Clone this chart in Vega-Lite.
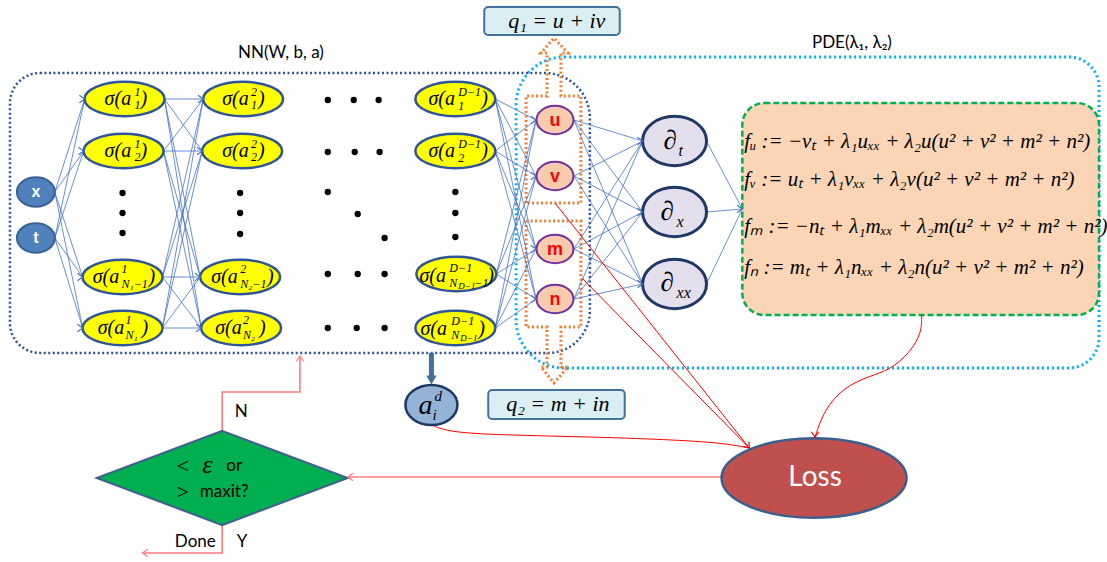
{
"$schema":"https://vega.github.io/schema/vega-lite/v6.json",
"width":1107,"height":562,"padding":0,
"autosize":{"type":"fit","contains":"padding"},
"background":"#ffffff",
"config":{"view":{"stroke":null}},
"datasets":{
"nodes":[
{"id":"x","type":"in","x":36,"y":192,"l":17,"r":55},
{"id":"t","type":"in","x":36,"y":238,"l":17,"r":55},
{"id":"h11","type":"h","x":125,"y":99,"l":85,"r":165},
{"id":"h12","type":"h","x":124,"y":151,"l":84,"r":164},
{"id":"h13","type":"h","x":123,"y":277,"l":83,"r":163},
{"id":"h14","type":"h","x":123,"y":328,"l":83,"r":163},
{"id":"h21","type":"h","x":244,"y":99,"l":204,"r":284},
{"id":"h22","type":"h","x":243,"y":151,"l":203,"r":283},
{"id":"h23","type":"h","x":241,"y":277,"l":201,"r":281},
{"id":"h24","type":"h","x":242,"y":328,"l":202,"r":282},
{"id":"hD1","type":"h","x":457,"y":99,"l":417,"r":497},
{"id":"hD2","type":"h","x":457,"y":151,"l":417,"r":497},
{"id":"hD3","type":"h","x":458,"y":274,"l":418,"r":498},
{"id":"hD4","type":"h","x":457,"y":328,"l":417,"r":497},
{"id":"u","type":"out","x":557,"y":120,"l":538,"r":576},
{"id":"v","type":"out","x":557,"y":176,"l":538,"r":576},
{"id":"m","type":"out","x":557,"y":249,"l":538,"r":576},
{"id":"n","type":"out","x":557,"y":299,"l":538,"r":576},
{"id":"dt","type":"d","x":677,"y":141,"l":645,"r":709},
{"id":"dx","type":"d","x":677,"y":212,"l":645,"r":709},
{"id":"dxx","type":"d","x":677,"y":284,"l":645,"r":709},
{"id":"pde","type":"pde","x":745,"y":209,"l":745,"r":745},
{"id":"ad","type":"ad","x":433,"y":405,"l":407,"r":459},
{"id":"loss","type":"loss","x":817,"y":478,"l":725,"r":910},
{"id":"dia","type":"dia","x":223,"y":478,"l":97,"r":348},
{"id":"p1","type":"dot","x":123,"y":193},{"id":"p2","type":"dot","x":123,"y":213},{"id":"p3","type":"dot","x":123,"y":233},
{"id":"p4","type":"dot","x":241,"y":193},{"id":"p5","type":"dot","x":241,"y":213},{"id":"p6","type":"dot","x":241,"y":234},
{"id":"p7","type":"dot","x":457,"y":192},{"id":"p8","type":"dot","x":457,"y":213},{"id":"p9","type":"dot","x":457,"y":237},
{"id":"p10","type":"dot","x":329,"y":100},{"id":"p11","type":"dot","x":355,"y":100},{"id":"p12","type":"dot","x":380,"y":100},
{"id":"p13","type":"dot","x":329,"y":152},{"id":"p14","type":"dot","x":356,"y":152},{"id":"p15","type":"dot","x":381,"y":152},
{"id":"p16","type":"dot","x":329,"y":192},{"id":"p17","type":"dot","x":359,"y":214},{"id":"p18","type":"dot","x":386,"y":238},
{"id":"p19","type":"dot","x":329,"y":274},{"id":"p20","type":"dot","x":359,"y":274},{"id":"p21","type":"dot","x":386,"y":274},
{"id":"p22","type":"dot","x":329,"y":328},{"id":"p23","type":"dot","x":358,"y":328},{"id":"p24","type":"dot","x":386,"y":328}
],
"links":[
{"s":"x","t":"h11"},{"s":"x","t":"h12"},{"s":"x","t":"h13"},{"s":"x","t":"h14"},
{"s":"t","t":"h11"},{"s":"t","t":"h12"},{"s":"t","t":"h13"},{"s":"t","t":"h14"},
{"s":"h11","t":"h21"},{"s":"h11","t":"h22"},{"s":"h11","t":"h23"},{"s":"h11","t":"h24"},
{"s":"h12","t":"h21"},{"s":"h12","t":"h22"},{"s":"h12","t":"h23"},{"s":"h12","t":"h24"},
{"s":"h13","t":"h21"},{"s":"h13","t":"h22"},{"s":"h13","t":"h23"},{"s":"h13","t":"h24"},
{"s":"h14","t":"h21"},{"s":"h14","t":"h22"},{"s":"h14","t":"h23"},{"s":"h14","t":"h24"},
{"s":"hD1","t":"u"},{"s":"hD1","t":"v"},{"s":"hD1","t":"m"},{"s":"hD1","t":"n"},
{"s":"hD2","t":"u"},{"s":"hD2","t":"v"},{"s":"hD2","t":"m"},{"s":"hD2","t":"n"},
{"s":"hD3","t":"u"},{"s":"hD3","t":"v"},{"s":"hD3","t":"m"},{"s":"hD3","t":"n"},
{"s":"hD4","t":"u"},{"s":"hD4","t":"v"},{"s":"hD4","t":"m"},{"s":"hD4","t":"n"},
{"s":"u","t":"dt"},{"s":"u","t":"dx"},{"s":"u","t":"dxx"},
{"s":"v","t":"dt"},{"s":"v","t":"dx"},{"s":"v","t":"dxx"},
{"s":"m","t":"dt"},{"s":"m","t":"dx"},{"s":"m","t":"dxx"},
{"s":"n","t":"dt"},{"s":"n","t":"dx"},{"s":"n","t":"dxx"},
{"s":"dt","t":"pde"},{"s":"dx","t":"pde"},{"s":"dxx","t":"pde"}
],
"boxes":[
{"k":"nn","x":10,"x2":592,"y":73,"y2":353},
{"k":"cy","x":518,"x2":1103,"y":57,"y2":368},
{"k":"pde","x":745,"x2":1103,"y":103,"y2":315},
{"k":"q","x":486,"x2":622,"y":7,"y2":35},
{"k":"q","x":490,"x2":627,"y":390,"y2":419}
],
"orange":[
{"id":"up","i":1,"x":528,"y":203},{"id":"up","i":2,"x":528,"y":96},{"id":"up","i":3,"x":549,"y":96},{"id":"up","i":4,"x":549,"y":53},{"id":"up","i":5,"x":543,"y":53},{"id":"up","i":6,"x":556,"y":38},{"id":"up","i":7,"x":570,"y":53},{"id":"up","i":8,"x":563,"y":53},{"id":"up","i":9,"x":563,"y":96},{"id":"up","i":10,"x":583,"y":96},{"id":"up","i":11,"x":583,"y":203},{"id":"up","i":12,"x":528,"y":203},
{"id":"dn","i":1,"x":528,"y":221},{"id":"dn","i":2,"x":583,"y":221},{"id":"dn","i":3,"x":583,"y":327},{"id":"dn","i":4,"x":563,"y":327},{"id":"dn","i":5,"x":563,"y":367},{"id":"dn","i":6,"x":570,"y":367},{"id":"dn","i":7,"x":556,"y":383},{"id":"dn","i":8,"x":543,"y":367},{"id":"dn","i":9,"x":549,"y":367},{"id":"dn","i":10,"x":549,"y":327},{"id":"dn","i":11,"x":528,"y":327},{"id":"dn","i":12,"x":528,"y":221}
],
"red":[
{"id":"r1","cv":"s","c":"r","i":1,"x":557,"y":203},{"id":"r1","cv":"s","c":"r","i":2,"x":752,"y":448},
{"id":"r2","cv":"s","c":"r","i":1,"x":584,"y":278},{"id":"r2","cv":"s","c":"r","i":2,"x":752,"y":448},
{"id":"r3","cv":"c","c":"r","i":1,"x":433,"y":425},{"id":"r3","cv":"c","c":"r","i":2,"x":450,"y":432},{"id":"r3","cv":"c","c":"r","i":3,"x":500,"y":435},{"id":"r3","cv":"c","c":"r","i":4,"x":600,"y":437},{"id":"r3","cv":"c","c":"r","i":5,"x":680,"y":440},{"id":"r3","cv":"c","c":"r","i":6,"x":725,"y":443},{"id":"r3","cv":"c","c":"r","i":7,"x":752,"y":448},
{"id":"r4","cv":"c","c":"r","i":1,"x":925,"y":315},{"id":"r4","cv":"c","c":"r","i":2,"x":925,"y":333},{"id":"r4","cv":"c","c":"r","i":3,"x":913,"y":353},{"id":"r4","cv":"c","c":"r","i":4,"x":893,"y":370},{"id":"r4","cv":"c","c":"r","i":5,"x":873,"y":376},{"id":"r4","cv":"c","c":"r","i":6,"x":847,"y":387},{"id":"r4","cv":"c","c":"r","i":7,"x":827,"y":410},{"id":"r4","cv":"c","c":"r","i":8,"x":818,"y":437},
{"id":"r5","cv":"s","c":"p","i":1,"x":725,"y":477},{"id":"r5","cv":"s","c":"p","i":2,"x":349,"y":477},
{"id":"r6","cv":"s","c":"p","i":1,"x":223,"y":431},{"id":"r6","cv":"s","c":"p","i":2,"x":223,"y":392},{"id":"r6","cv":"s","c":"p","i":3,"x":301,"y":392},{"id":"r6","cv":"s","c":"p","i":4,"x":301,"y":356},
{"id":"r7","cv":"s","c":"p","i":1,"x":223,"y":525},{"id":"r7","cv":"s","c":"p","i":2,"x":223,"y":553},{"id":"r7","cv":"s","c":"p","i":3,"x":143,"y":553}
],
"heads":[
{"x":85,"y":99,"dir":"r","c":"b"},{"x":84,"y":151,"dir":"r","c":"b"},{"x":83,"y":277,"dir":"r","c":"b"},{"x":83,"y":328,"dir":"r","c":"b"},
{"x":204,"y":99,"dir":"r","c":"b"},{"x":203,"y":151,"dir":"r","c":"b"},{"x":201,"y":277,"dir":"r","c":"b"},{"x":202,"y":328,"dir":"r","c":"b"},
{"x":538,"y":120,"dir":"r","c":"b"},{"x":538,"y":176,"dir":"r","c":"b"},{"x":538,"y":249,"dir":"r","c":"b"},{"x":538,"y":299,"dir":"r","c":"b"},
{"x":645,"y":141,"dir":"r","c":"b"},{"x":645,"y":212,"dir":"r","c":"b"},{"x":645,"y":284,"dir":"r","c":"b"},{"x":745,"y":209,"dir":"r","c":"b"},
{"x":752,"y":448,"dir":"dr","c":"r"},{"x":818,"y":437,"dir":"d","c":"r"},{"x":349,"y":477,"dir":"l","c":"p"},{"x":301,"y":356,"dir":"u","c":"p"},{"x":143,"y":553,"dir":"l","c":"p"}
],
"thick":[{"x":433,"y":353,"y2":377,"ty":380}],
"ser":[
{"x":105,"y":99,"t":"σ(a","k":"m"},{"x":135,"y":92,"t":"1","k":"s"},{"x":135,"y":105,"t":"1","k":"s"},{"x":141,"y":99,"t":")","k":"m"},
{"x":105,"y":151,"t":"σ(a","k":"m"},{"x":135,"y":144,"t":"1","k":"s"},{"x":135,"y":157,"t":"2","k":"s"},{"x":141,"y":151,"t":")","k":"m"},
{"x":93,"y":277,"t":"σ(a","k":"m"},{"x":122,"y":269,"t":"1","k":"s"},{"x":122,"y":284,"t":"N₁−1","k":"s"},{"x":149,"y":277,"t":")","k":"m"},
{"x":98,"y":328,"t":"σ(a","k":"m"},{"x":126,"y":320,"t":"1","k":"s"},{"x":126,"y":335,"t":"N₁","k":"s"},{"x":142,"y":328,"t":")","k":"m"},
{"x":223,"y":99,"t":"σ(a","k":"m"},{"x":252,"y":92,"t":"2","k":"s"},{"x":252,"y":105,"t":"1","k":"s"},{"x":259,"y":99,"t":")","k":"m"},
{"x":223,"y":151,"t":"σ(a","k":"m"},{"x":252,"y":144,"t":"2","k":"s"},{"x":252,"y":157,"t":"2","k":"s"},{"x":259,"y":151,"t":")","k":"m"},
{"x":212,"y":277,"t":"σ(a","k":"m"},{"x":241,"y":269,"t":"2","k":"s"},{"x":241,"y":284,"t":"N₂−1","k":"s"},{"x":268,"y":277,"t":")","k":"m"},
{"x":216,"y":328,"t":"σ(a","k":"m"},{"x":244,"y":320,"t":"2","k":"s"},{"x":244,"y":335,"t":"N₂","k":"s"},{"x":260,"y":328,"t":")","k":"m"},
{"x":430,"y":99,"t":"σ(a","k":"m"},{"x":460,"y":92,"t":"D−1","k":"s"},{"x":460,"y":106,"t":"1","k":"s"},{"x":483,"y":99,"t":")","k":"m"},
{"x":430,"y":151,"t":"σ(a","k":"m"},{"x":460,"y":144,"t":"D−1","k":"s"},{"x":460,"y":158,"t":"2","k":"s"},{"x":483,"y":151,"t":")","k":"m"},
{"x":421,"y":276,"t":"σ(a","k":"m"},{"x":451,"y":268,"t":"D−1","k":"s"},{"x":451,"y":283,"t":"N","k":"s"},{"x":460,"y":286,"t":"D−1","k":"ti"},{"x":476,"y":283,"t":"−1","k":"s"},{"x":489,"y":276,"t":")","k":"m"},
{"x":422,"y":329,"t":"σ(a","k":"m"},{"x":453,"y":321,"t":"D−1","k":"s"},{"x":453,"y":335,"t":"N","k":"s"},{"x":462,"y":338,"t":"D−1","k":"ti"},{"x":480,"y":329,"t":")","k":"m"},
{"x":666,"y":141,"t":"∂","k":"pd"},{"x":681,"y":151,"t":"t","k":"ps"},
{"x":663,"y":212,"t":"∂","k":"pd"},{"x":679,"y":222,"t":"x","k":"ps"},
{"x":663,"y":283,"t":"∂","k":"pd"},{"x":679,"y":293,"t":"xx","k":"ps"},
{"x":420,"y":406,"t":"a","k":"a"},{"x":436,"y":396,"t":"d","k":"as"},{"x":434,"y":415,"t":"i","k":"as"},
{"x":510,"y":21,"t":"q₁ = u + iv","k":"q"},{"x":508,"y":404,"t":"q₂ = m + in","k":"q"},
{"x":176,"y":466,"t":"<","k":"lt"},{"x":203,"y":465,"t":"ε","k":"ep"},{"x":176,"y":492,"t":">","k":"lt"},
{"x":747,"y":142,"t":"fᵤ := −vₜ + λ₁uₓₓ + λ₂u(u² + v² + m² + n²)","k":"eq"},
{"x":747,"y":180,"t":"fᵥ := uₜ + λ₁vₓₓ + λ₂v(u² + v² + m² + n²)","k":"eq"},
{"x":747,"y":227,"t":"fₘ := −nₜ + λ₁mₓₓ + λ₂m(u² + v² + m² + n²)","k":"eq"},
{"x":747,"y":268,"t":"fₙ := mₜ + λ₁nₓₓ + λ₂n(u² + v² + m² + n²)","k":"eq"}
],
"san":[
{"x":282,"y":53,"t":"NN(W, b, a)","k":"n"},{"x":855,"y":43,"t":"PDE(λ₁, λ₂)","k":"n"},
{"x":242,"y":412,"t":"N","k":"n"},{"x":196,"y":542,"t":"Done","k":"n"},{"x":243,"y":542,"t":"Y","k":"n"},
{"x":235,"y":466,"t":"or","k":"n"},{"x":225,"y":492,"t":"maxit?","k":"n"},
{"x":818,"y":478,"t":"Loss","k":"w"}
],
"bold":[
{"x":36,"y":192,"t":"x","k":"w"},{"x":36,"y":238,"t":"t","k":"w"},
{"x":557,"y":121,"t":"u","k":"r"},{"x":557,"y":177,"t":"v","k":"r"},{"x":557,"y":250,"t":"m","k":"r"},{"x":557,"y":300,"t":"n","k":"r"}
]
},
"resolve":{"scale":{"color":"independent","fill":"independent","stroke":"independent","size":"independent","shape":"independent","strokeWidth":"independent"}},
"layer":[
{"data":{"name":"boxes"},"transform":[{"filter":"datum.k == 'cy'"}],
 "mark":{"type":"rect","filled":false,"stroke":"#00B0F0","strokeWidth":3,"strokeDash":[2,3],"cornerRadiusTopLeft":48,"cornerRadiusBottomLeft":48,"cornerRadiusTopRight":30,"cornerRadiusBottomRight":30},
 "encoding":{"x":{"field":"x","type":"quantitative","scale":{"domain":[0,1107],"nice":false,"zero":false},"axis":null},"x2":{"field":"x2"},"y":{"field":"y","type":"quantitative","scale":{"domain":[0,562],"nice":false,"zero":false,"reverse":true},"axis":null},"y2":{"field":"y2"}}},
{"data":{"name":"boxes"},"transform":[{"filter":"datum.k == 'nn'"}],
 "mark":{"type":"rect","filled":false,"stroke":"#2F5597","strokeWidth":2.5,"strokeDash":[2,2.5],"cornerRadiusTopLeft":30,"cornerRadiusBottomLeft":30,"cornerRadiusTopRight":45,"cornerRadiusBottomRight":42},
 "encoding":{"x":{"field":"x","type":"quantitative","scale":{"domain":[0,1107],"nice":false,"zero":false},"axis":null},"x2":{"field":"x2"},"y":{"field":"y","type":"quantitative","scale":{"domain":[0,562],"nice":false,"zero":false,"reverse":true},"axis":null},"y2":{"field":"y2"}}},
{"data":{"name":"boxes"},"transform":[{"filter":"datum.k == 'pde'"}],
 "mark":{"type":"rect","fill":"#FBD5B5","stroke":"#00B050","strokeWidth":2.5,"strokeDash":[6,3],"cornerRadius":22},
 "encoding":{"x":{"field":"x","type":"quantitative","scale":{"domain":[0,1107],"nice":false,"zero":false},"axis":null},"x2":{"field":"x2"},"y":{"field":"y","type":"quantitative","scale":{"domain":[0,562],"nice":false,"zero":false,"reverse":true},"axis":null},"y2":{"field":"y2"}}},
{"data":{"name":"orange"},
 "mark":{"type":"line","color":"#ED7D31","strokeWidth":3,"strokeDash":[2,2.5]},
 "encoding":{"x":{"field":"x","type":"quantitative","scale":{"domain":[0,1107],"nice":false,"zero":false},"axis":null},"y":{"field":"y","type":"quantitative","scale":{"domain":[0,562],"nice":false,"zero":false,"reverse":true},"axis":null},"detail":{"field":"id"},"order":{"field":"i","type":"quantitative"}}},
{"data":{"name":"links"},
 "transform":[
  {"lookup":"s","from":{"data":{"name":"nodes"},"key":"id","fields":["r","y"]},"as":["x1","y1"]},
  {"lookup":"t","from":{"data":{"name":"nodes"},"key":"id","fields":["l","y"]},"as":["xe","ye"]}],
 "mark":{"type":"rule","color":"#4472C4","strokeWidth":0.8},
 "encoding":{"x":{"field":"x1","type":"quantitative","scale":{"domain":[0,1107],"nice":false,"zero":false},"axis":null},"y":{"field":"y1","type":"quantitative","scale":{"domain":[0,562],"nice":false,"zero":false,"reverse":true},"axis":null},"x2":{"field":"xe"},"y2":{"field":"ye"}}},
{"data":{"name":"red"},"transform":[{"filter":"datum.cv == 's'"}],
 "mark":{"type":"line"},
 "encoding":{"x":{"field":"x","type":"quantitative","scale":{"domain":[0,1107],"nice":false,"zero":false},"axis":null},"y":{"field":"y","type":"quantitative","scale":{"domain":[0,562],"nice":false,"zero":false,"reverse":true},"axis":null},"detail":{"field":"id"},"order":{"field":"i","type":"quantitative"},
  "color":{"field":"c","type":"nominal","scale":{"domain":["r","p"],"range":["#FF0000","#FF7C80"]},"legend":null},
  "strokeWidth":{"field":"c","type":"nominal","scale":{"type":"ordinal","domain":["r","p"],"range":[1,1.6]},"legend":null}}},
{"data":{"name":"red"},"transform":[{"filter":"datum.cv == 'c'"}],
 "mark":{"type":"line","interpolate":"basis","color":"#FF0000","strokeWidth":1},
 "encoding":{"x":{"field":"x","type":"quantitative","scale":{"domain":[0,1107],"nice":false,"zero":false},"axis":null},"y":{"field":"y","type":"quantitative","scale":{"domain":[0,562],"nice":false,"zero":false,"reverse":true},"axis":null},"detail":{"field":"id"},"order":{"field":"i","type":"quantitative"}}},
{"data":{"name":"thick"},
 "mark":{"type":"rule","color":"#41719C","strokeWidth":5},
 "encoding":{"x":{"field":"x","type":"quantitative","scale":{"domain":[0,1107],"nice":false,"zero":false},"axis":null},"y":{"field":"y","type":"quantitative","scale":{"domain":[0,562],"nice":false,"zero":false,"reverse":true},"axis":null},"y2":{"field":"y2"}}},
{"data":{"name":"thick"},
 "mark":{"type":"point","shape":"triangle-down","filled":true,"color":"#41719C","opacity":1,"size":110},
 "encoding":{"x":{"field":"x","type":"quantitative","scale":{"domain":[0,1107],"nice":false,"zero":false},"axis":null},"y":{"field":"ty","type":"quantitative","scale":{"domain":[0,562],"nice":false,"zero":false,"reverse":true},"axis":null}}},
{"data":{"name":"boxes"},"transform":[{"filter":"datum.k == 'q'"}],
 "mark":{"type":"rect","fill":"#DAEEF3","stroke":"#41719C","strokeWidth":2,"cornerRadius":4},
 "encoding":{"x":{"field":"x","type":"quantitative","scale":{"domain":[0,1107],"nice":false,"zero":false},"axis":null},"x2":{"field":"x2"},"y":{"field":"y","type":"quantitative","scale":{"domain":[0,562],"nice":false,"zero":false,"reverse":true},"axis":null},"y2":{"field":"y2"}}},
{"data":{"name":"nodes"},"transform":[{"filter":"datum.type != 'pde'"}],
 "mark":{"type":"point","filled":true,"opacity":1},
 "encoding":{"x":{"field":"x","type":"quantitative","scale":{"domain":[0,1107],"nice":false,"zero":false},"axis":null},"y":{"field":"y","type":"quantitative","scale":{"domain":[0,562],"nice":false,"zero":false,"reverse":true},"axis":null},
  "fill":{"field":"type","type":"nominal","scale":{"domain":["in","h","out","d","ad","loss","dia","dot"],"range":["#4F81BD","#FFFF00","#F8CBAD","#E4DFEC","#95B3D7","#C0504D","#00B050","#000000"]},"legend":null},
  "stroke":{"field":"type","type":"nominal","scale":{"domain":["in","h","out","d","ad","loss","dia","dot"],"range":["#3A6496","#2F5597","#7030A0","#1F3864","#1F3864","#3A5F8F","#3F5F8F","#000000"]},"legend":null},
  "strokeWidth":{"field":"type","type":"nominal","scale":{"type":"ordinal","domain":["in","h","out","d","ad","loss","dia","dot"],"range":[2,2.5,2,3,2.5,2.5,2,0]},"legend":null},
  "size":{"field":"type","type":"nominal","scale":{"type":"ordinal","domain":["in","h","out","d","ad","loss","dia","dot"],"range":[1444,6400,1369,4096,2704,34225,63001,40]},"legend":null},
  "shape":{"field":"type","type":"nominal","scale":{"domain":["in","h","out","d","ad","loss","dia","dot"],"range":[
   "M-1,0C-1,-0.425,-0.552,-0.77,0,-0.77C0.552,-0.77,1,-0.425,1,0C1,0.425,0.552,0.77,0,0.77C-0.552,0.77,-1,0.425,-1,0Z",
   "M-1,0C-1,-0.2375,-0.552,-0.43,0,-0.43C0.552,-0.43,1,-0.2375,1,0C1,0.2375,0.552,0.43,0,0.43C-0.552,0.43,-1,0.2375,-1,0Z",
   "M-1,0C-1,-0.425,-0.552,-0.77,0,-0.77C0.552,-0.77,1,-0.425,1,0C1,0.425,0.552,0.77,0,0.77C-0.552,0.77,-1,0.425,-1,0Z",
   "M-1,0C-1,-0.425,-0.552,-0.77,0,-0.77C0.552,-0.77,1,-0.425,1,0C1,0.425,0.552,0.77,0,0.77C-0.552,0.77,-1,0.425,-1,0Z",
   "M-1,0C-1,-0.425,-0.552,-0.77,0,-0.77C0.552,-0.77,1,-0.425,1,0C1,0.425,0.552,0.77,0,0.77C-0.552,0.77,-1,0.425,-1,0Z",
   "M-1,0C-1,-0.2375,-0.552,-0.43,0,-0.43C0.552,-0.43,1,-0.2375,1,0C1,0.2375,0.552,0.43,0,0.43C-0.552,0.43,-1,0.2375,-1,0Z",
   "M0,-0.375L1,0L0,0.375L-1,0Z",
   "circle"]},"legend":null}}},
{"data":{"name":"heads"},
 "mark":{"type":"point","filled":false,"opacity":1,"size":110,"strokeWidth":1.2},
 "encoding":{"x":{"field":"x","type":"quantitative","scale":{"domain":[0,1107],"nice":false,"zero":false},"axis":null},"y":{"field":"y","type":"quantitative","scale":{"domain":[0,562],"nice":false,"zero":false,"reverse":true},"axis":null},
  "shape":{"field":"dir","type":"nominal","scale":{"domain":["r","l","u","d","dr"],"range":["M-1,-0.7L0,0L-1,0.7","M1,-0.7L0,0L1,0.7","M-0.7,1L0,0L0.7,1","M-0.7,-1L0,0L0.7,-1","M-1.18,-0.34L0,0L-0.08,-1.22"]},"legend":null},
  "stroke":{"field":"c","type":"nominal","scale":{"domain":["b","r","p"],"range":["#4472C4","#FF0000","#FF7C80"]},"legend":null}}},
{"data":{"name":"ser"},
 "mark":{"type":"text","font":"Liberation Serif","fontStyle":"italic","align":"left","baseline":"middle"},
 "encoding":{"x":{"field":"x","type":"quantitative","scale":{"domain":[0,1107],"nice":false,"zero":false},"axis":null},"y":{"field":"y","type":"quantitative","scale":{"domain":[0,562],"nice":false,"zero":false,"reverse":true},"axis":null},"text":{"field":"t"},
  "color":{"value":"#000000"},
  "size":{"field":"k","type":"nominal","scale":{"type":"ordinal","domain":["m","s","ti","pd","ps","a","as","q","lt","ep","eq"],"range":[20,12,9,27,16,28,15,22,22,26,21]},"legend":null}}},
{"data":{"name":"san"},
 "mark":{"type":"text","font":"Lato","align":"center","baseline":"middle"},
 "encoding":{"x":{"field":"x","type":"quantitative","scale":{"domain":[0,1107],"nice":false,"zero":false},"axis":null},"y":{"field":"y","type":"quantitative","scale":{"domain":[0,562],"nice":false,"zero":false,"reverse":true},"axis":null},"text":{"field":"t"},
  "color":{"field":"k","type":"nominal","scale":{"domain":["n","w"],"range":["#000000","#FFFFFF"]},"legend":null},
  "size":{"field":"k","type":"nominal","scale":{"type":"ordinal","domain":["n","w"],"range":[17,28]},"legend":null}}},
{"data":{"name":"bold"},
 "mark":{"type":"text","font":"Liberation Sans","fontWeight":"bold","align":"center","baseline":"middle"},
 "encoding":{"x":{"field":"x","type":"quantitative","scale":{"domain":[0,1107],"nice":false,"zero":false},"axis":null},"y":{"field":"y","type":"quantitative","scale":{"domain":[0,562],"nice":false,"zero":false,"reverse":true},"axis":null},"text":{"field":"t"},
  "color":{"field":"k","type":"nominal","scale":{"domain":["w","r"],"range":["#FFFFFF","#FF0000"]},"legend":null},
  "size":{"field":"k","type":"nominal","scale":{"type":"ordinal","domain":["w","r"],"range":[16,18]},"legend":null}}}
]
}
